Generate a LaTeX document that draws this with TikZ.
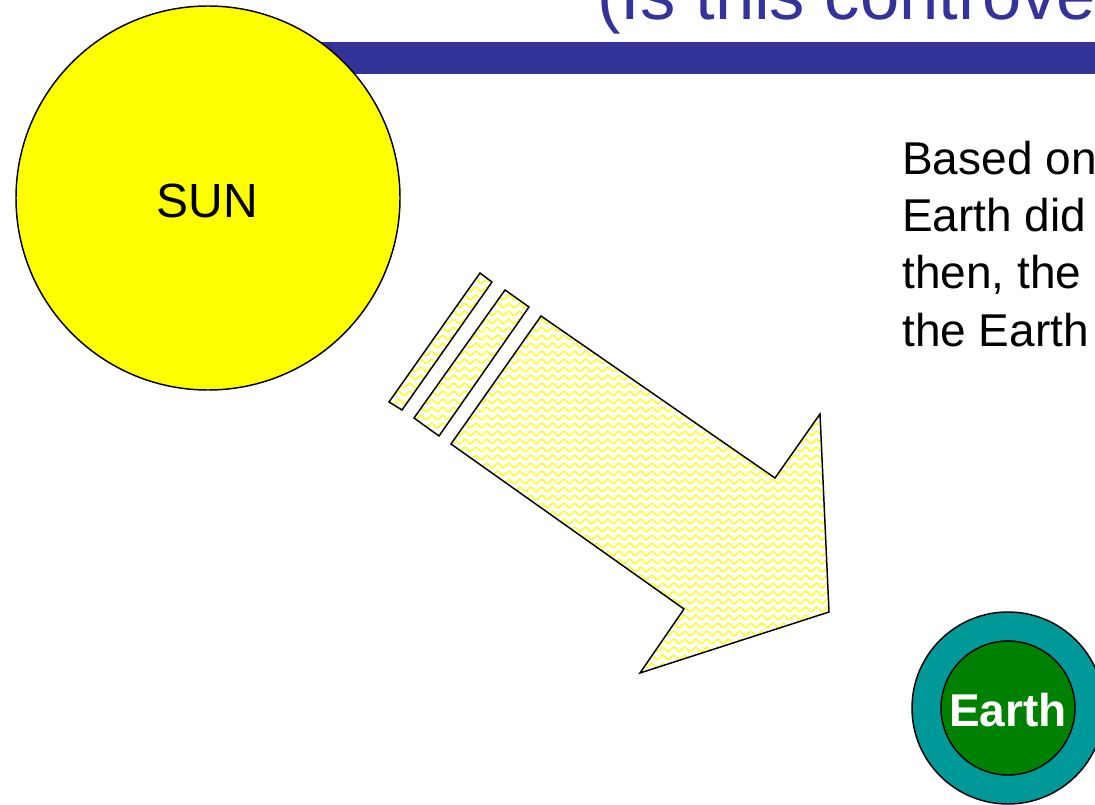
\documentclass[tikz,border=0pt]{standalone}
\usepackage{fontspec}
\setmainfont{Liberation Sans}
\usetikzlibrary{patterns}
\definecolor{titleblue}{HTML}{333399}
\definecolor{sunyellow}{HTML}{FFFF00}
\definecolor{teal}{HTML}{009999}
\definecolor{earthgreen}{HTML}{008000}
\pgfdeclarepatternformonly{yellowwaves}{\pgfpoint{-0.6pt}{-0.6pt}}{\pgfpoint{8.85pt}{6.6pt}}{\pgfpoint{8.25pt}{6pt}}{%
  \pgfsetlinewidth{1.0pt}%
  \pgfpathmoveto{\pgfpoint{0pt}{2.6pt}}%
  \pgfpathcurveto{\pgfpoint{1.4pt}{4.7pt}}{\pgfpoint{2.7pt}{4.7pt}}{\pgfpoint{4.125pt}{2.6pt}}%
  \pgfpathcurveto{\pgfpoint{5.5pt}{0.5pt}}{\pgfpoint{6.85pt}{0.5pt}}{\pgfpoint{8.25pt}{2.6pt}}%
  \pgfusepath{stroke}%
}
\tikzset{
  rayshape/.style={draw=black, line width=1.1pt, line join=miter, pattern=yellowwaves, pattern color=sunyellow},
  bodytext/.style={anchor=base west, inner sep=0pt, font=\fontsize{34.5pt}{42pt}\selectfont}
}
\begin{document}
\begin{tikzpicture}[x=0.75pt, y=-0.75pt]
\useasboundingbox (0,0) rectangle (1095,805);
\begin{scope}
\clip (0,0) rectangle (1095,805);
% title
\node[anchor=base west, inner sep=0pt, text=titleblue, font=\fontsize{53pt}{60pt}\selectfont] (title) at (597,20) {(Is this controve};
\fill[titleblue] (200,42) rectangle (1100,74);
% sun
\node[circle, draw=black, line width=1.1pt, fill=sunyellow, minimum size=288pt, inner sep=0pt] (sun) at (208,198) {};
\node[inner sep=0pt, font=\fontsize{36pt}{40pt}\selectfont] (sunlabel) at (207.5,200.5) {SUN};
% rays
\draw[rayshape] (480,273) -- (492,282) -- (402,410) -- (389,402) -- cycle;
\draw[rayshape] (505,290) -- (529,307) -- (439,436) -- (414,418) -- cycle;
\draw[rayshape] (541,316) -- (775,478) -- (820,414) -- (829,612) -- (640,673) -- (684,609) -- (451,444) -- cycle;
% text
\node[bodytext] (l1) at (902,175) {Based on};
\node[bodytext] (l2) at (902,232) {Earth did};
\node[bodytext] (l3) at (902,289) {then, the};
\node[bodytext] (l4) at (902,346) {the Earth};
% earth
\node[circle, draw=black, line width=1.1pt, fill=teal, minimum size=144pt, inner sep=0pt] (atmo) at (1008,708) {};
\node[circle, draw=black, line width=1.1pt, fill=earthgreen, minimum size=100.5pt, inner sep=0pt] (earth) at (1008,708) {};
\node[inner sep=0pt, text=white, font=\bfseries\fontsize{34.5pt}{40pt}\selectfont] (earthlabel) at (1008,710.5) {Earth};
\end{scope}
\end{tikzpicture}
\end{document}
